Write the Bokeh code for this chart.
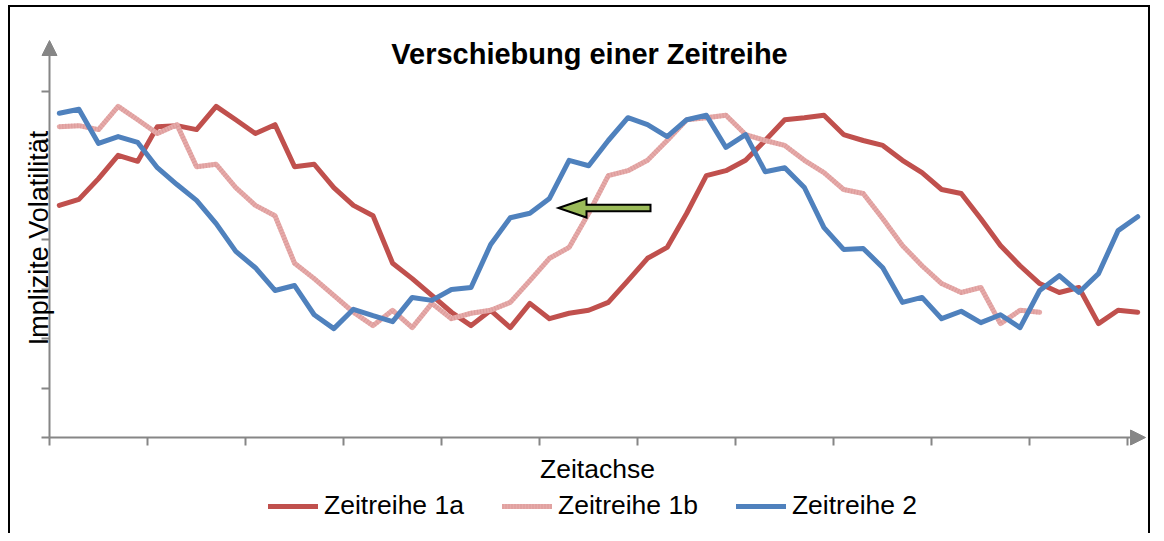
import numpy as np
from bokeh.plotting import figure
from bokeh.models import (Range1d, FixedTicker, Arrow, NormalHead, Label,
                          Legend, LegendItem)
from bokeh.embed import file_html
from bokeh.resources import INLINE

# ---------------- data ----------------
periods = list(range(1, 57))          # 56 time steps on the category axis
zeitreihe_1a = [4.69, 4.81, 5.23, 5.70, 5.58, 6.28, 6.30, 6.22, 6.69, 6.42,
                6.14, 6.32, 5.47, 5.52, 5.05, 4.69, 4.48, 3.52, 3.21, 2.87,
                2.53, 2.26, 2.57, 2.22, 2.71, 2.40, 2.51, 2.57, 2.73, 3.17,
                3.62, 3.84, 4.53, 5.29, 5.39, 5.60, 6.00, 6.42, 6.46, 6.51,
                6.12, 6.00, 5.90, 5.60, 5.35, 5.01, 4.93, 4.42, 3.88, 3.47,
                3.11, 2.93, 3.03, 2.30, 2.57, 2.53]
zeitreihe_1b = [6.28, 6.30, 6.22, 6.69, 6.42, 6.14, 6.32, 5.47, 5.52, 5.05,
                4.69, 4.48, 3.52, 3.21, 2.87, 2.53, 2.26, 2.57, 2.22, 2.71,
                2.40, 2.51, 2.57, 2.73, 3.17, 3.62, 3.84, 4.53, 5.29, 5.39,
                5.60, 6.00, 6.42, 6.46, 6.51, 6.12, 6.00, 5.90, 5.60, 5.35,
                5.01, 4.93, 4.42, 3.88, 3.47, 3.11, 2.93, 3.03, 2.30, 2.57,
                2.53]
zeitreihe_2 = [6.55, 6.63, 5.94, 6.08, 5.96, 5.45, 5.11, 4.79, 4.32, 3.76,
               3.43, 2.97, 3.07, 2.48, 2.20, 2.59, 2.46, 2.34, 2.83, 2.77,
               2.99, 3.03, 3.90, 4.44, 4.53, 4.83, 5.60, 5.49, 6.00, 6.46,
               6.32, 6.08, 6.42, 6.51, 5.86, 6.12, 5.37, 5.45, 5.05, 4.24,
               3.80, 3.82, 3.43, 2.73, 2.83, 2.40, 2.55, 2.32, 2.48, 2.22,
               2.97, 3.27, 2.93, 3.31, 4.18, 4.46]
series_names = ["Zeitreihe 1a", "Zeitreihe 1b", "Zeitreihe 2"]
title_text = "Verschiebung einer Zeitreihe"
x_label = "Zeitachse"
y_label = "Implizite Volatilität"

# ---------------- style / layout ----------------
FONT = "Liberation Sans"
AXIS = "#868686"
RED = "#C0504D"
PINK = "#E6AAA9"
PINK_DARK = "#D48E8D"
BLUE = "#4F81BD"
GREEN = "#9BBB59"

W, H = 1150, 533
B_LEFT, B_RIGHT, B_TOP, B_BOTTOM = 14, 2, 9, 14      # borders around the frame
AX_X0, AX_X1 = 49, 1147      # pixel span of the category axis
AX_Y0, AX_Y1 = 437, 41       # pixel span of the value axis

n_cat = len(periods)
y_max = 8
sx = (AX_X1 - AX_X0) / n_cat          # px per category
sy = (AX_Y0 - AX_Y1) / y_max          # px per value unit
fr_l, fr_r = B_LEFT, W - B_RIGHT
fr_t, fr_b = B_TOP, H - B_BOTTOM

x_range = Range1d((fr_l - AX_X0) / sx, (fr_r - AX_X0) / sx)
y_range = Range1d((AX_Y0 - fr_b) / sy, (AX_Y0 - fr_t) / sy)

x_pos = np.array(periods, dtype=float) - 0.5

p = figure(width=W, height=H, output_backend="svg", toolbar_location=None,
           x_range=x_range, y_range=y_range,
           min_border_left=B_LEFT, min_border_right=B_RIGHT,
           min_border_top=B_TOP, min_border_bottom=B_BOTTOM)
p.border_fill_color = None
p.background_fill_color = None
p.outline_line_color = None
p.xgrid.visible = False
p.ygrid.visible = False
p.styles = {"box-shadow": ("inset 8px 0 0 0 #fff, inset 0 5px 0 0 #fff, "
                           "inset 10px 0 0 0 #000, inset 0 7px 0 0 #000, "
                           "inset -2px 0 0 0 #000")}

for ax in (p.xaxis[0], p.yaxis[0]):
    ax.fixed_location = 0
    ax.axis_line_color = None
    ax.major_tick_line_color = AXIS
    ax.major_tick_line_width = 2
    ax.major_tick_in = 0
    ax.major_tick_out = 8
    ax.minor_tick_line_color = None
    ax.major_label_text_font_size = "1px"
    ax.major_label_text_alpha = 0
    ax.major_label_standoff = 0

p.xaxis.ticker = FixedTicker(ticks=list(range(0, n_cat, 5)))
p.yaxis.ticker = FixedTicker(ticks=list(range(0, y_max)))

# axis lines with arrow heads
p.add_layout(Arrow(end=NormalHead(size=15, fill_color=AXIS, line_color=AXIS, line_width=1),
                   x_start=0, y_start=0, x_end=n_cat - 0.1, y_end=0,
                   line_color=AXIS, line_width=2))
p.add_layout(Arrow(end=NormalHead(size=15, fill_color=AXIS, line_color=AXIS, line_width=1),
                   x_start=0, y_start=0, x_end=0, y_end=y_max + 0.02,
                   line_color=AXIS, line_width=2))

# series
r1 = p.line(x_pos[:len(zeitreihe_1a)], zeitreihe_1a, line_color=RED, line_width=5,
            line_join="round", line_cap="round")
r2a = p.line(x_pos[:len(zeitreihe_1b)], zeitreihe_1b, line_color=PINK, line_width=5,
             line_join="round", line_cap="round")
r2b = p.line(x_pos[:len(zeitreihe_1b)], zeitreihe_1b, line_color=PINK_DARK, line_width=5,
             line_dash="1 2", line_alpha=0.5)
r3 = p.line(x_pos[:len(zeitreihe_2)], zeitreihe_2, line_color=BLUE, line_width=5,
            line_join="round", line_cap="round")

# green block arrow (annotation)
tip_x, tip_y, tail_x = (558 - AX_X0) / sx, (AX_Y0 - 207.5) / sy, (650 - AX_X0) / sx
hl, hh, sh = 28 / sx, 9.5 / sy, 3.3 / sy
ax_xs = [tip_x, tip_x + hl, tip_x + hl, tail_x, tail_x, tip_x + hl, tip_x + hl]
ax_ys = [tip_y, tip_y + hh, tip_y + sh, tip_y + sh, tip_y - sh, tip_y - sh, tip_y - hh]
p.patch(ax_xs, ax_ys, fill_color=GREEN, line_color="black", line_width=2,
        line_join="miter")

# texts
p.add_layout(Label(x=(589 - AX_X0) / sx, y=(AX_Y0 - 53.5) / sy, text=title_text,
                   text_font=FONT, text_font_size="29px", text_font_style="bold",
                   text_align="center", text_baseline="alphabetic", text_color="black"))
p.add_layout(Label(x=(597 - AX_X0) / sx, y=(AX_Y0 - 468) / sy, text=x_label,
                   text_font=FONT, text_font_size="26.5px",
                   text_align="center", text_baseline="alphabetic", text_color="black"))
p.add_layout(Label(x=(38 - AX_X0) / sx, y=(AX_Y0 - 237.5) / sy, text=y_label,
                   angle=np.pi / 2, text_font=FONT, text_font_size="27px",
                   text_align="center", text_baseline="alphabetic", text_color="black"))

legend = Legend(items=[LegendItem(label=series_names[0], renderers=[r1]),
                       LegendItem(label=series_names[1], renderers=[r2a, r2b]),
                       LegendItem(label=series_names[2], renderers=[r3])],
                orientation="horizontal", location=(268 - fr_l, fr_b - 521),
                glyph_width=50, glyph_height=20, label_standoff=6, spacing=38,
                label_text_font=FONT, label_text_font_size="26.5px",
                label_text_color="black",
                border_line_color=None, background_fill_alpha=0,
                padding=0, margin=0)
p.add_layout(legend, "center")

open("out.html", "w").write(file_html(p, INLINE))
